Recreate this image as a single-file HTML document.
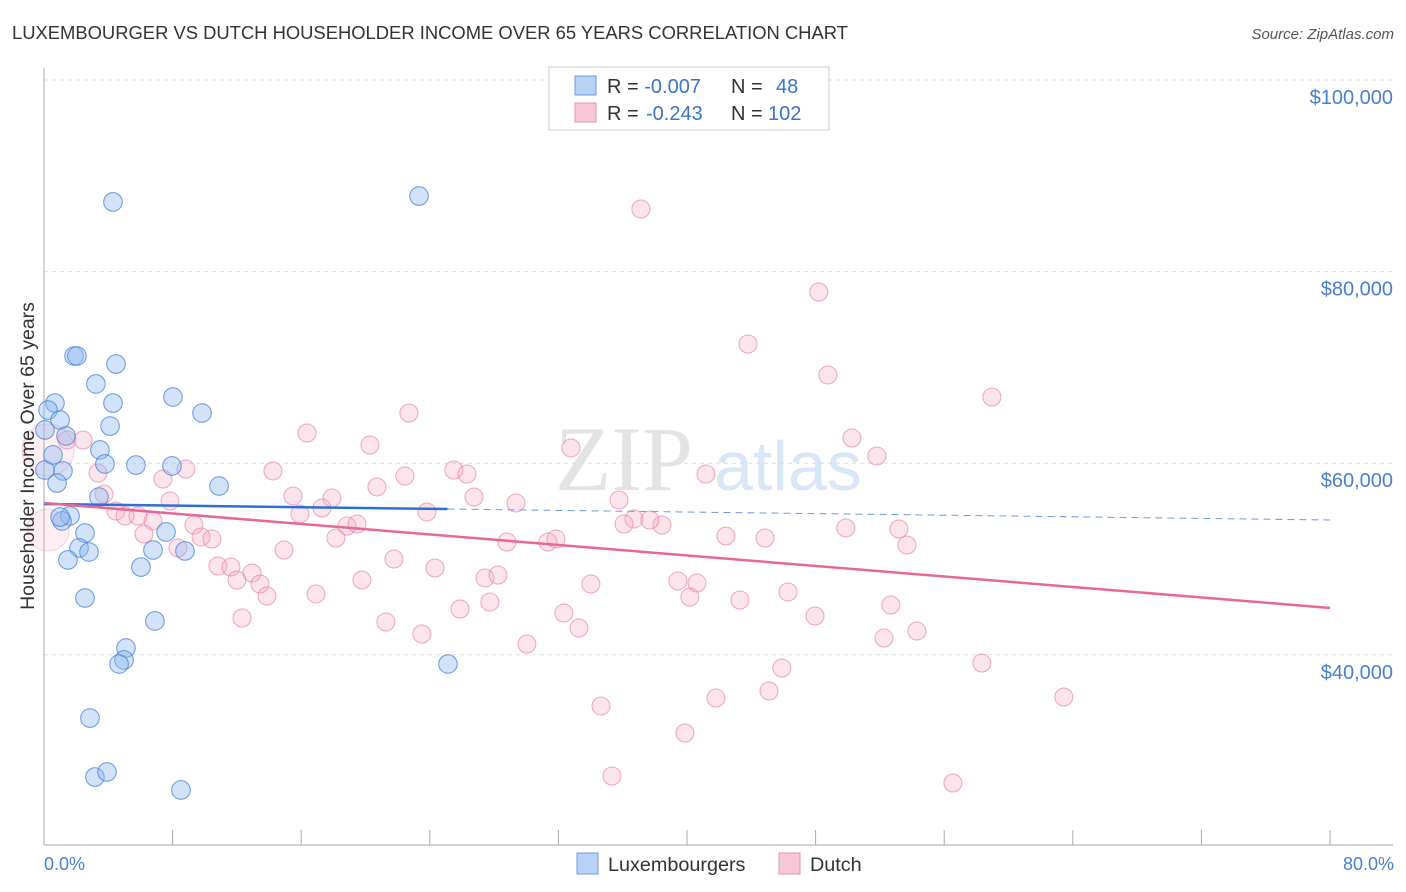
<!DOCTYPE html>
<html><head><meta charset="utf-8"><style>
body{margin:0;background:#fff;font-family:"Liberation Sans",sans-serif;}
</style></head><body>
<svg id="chart" width="1406" height="892" xmlns="http://www.w3.org/2000/svg" style="display:block">
<text x="12" y="39" font-size="18.4" fill="#333">LUXEMBOURGER VS DUTCH HOUSEHOLDER INCOME OVER 65 YEARS CORRELATION CHART</text>
<text x="1394" y="39" font-size="15" fill="#555" text-anchor="end" font-style="italic">Source: ZipAtlas.com</text>
<g id="grid"></g>
<text x="555" y="490" font-size="92" fill="#ddd" font-family="Liberation Serif, serif" opacity="0.8">ZIP</text>
<text x="714" y="490" font-size="70" fill="#cfe0f3" opacity="0.8">atlas</text>
<g id="axes"></g>
<g id="pink"></g>
<g id="blue"></g>
<g id="trends"></g>
<text transform="translate(34,456) rotate(-90)" font-size="19.5" fill="#333" text-anchor="middle">Householder Income Over 65 years</text>
<text x="44" y="870" font-size="18" fill="#4a7fd0">0.0%</text>
<text x="1394" y="870" font-size="18" fill="#4a7fd0" text-anchor="end">80.0%</text>
<g>
<rect x="549" y="67" width="280" height="63" fill="#fff" stroke="#ccc"/>
<rect x="575" y="76" width="21" height="19" fill="#b8d2f5" stroke="#6a9be0"/>
<rect x="575" y="103" width="21" height="19" fill="#f9c6d5" stroke="#ea93ae"/>
<text x="607" y="93" font-size="20" fill="#333">R = <tspan fill="#3b73c8">-0.007</tspan><tspan x="731">N = </tspan><tspan x="776" fill="#3b73c8">48</tspan></text>
<text x="607" y="120" font-size="20" fill="#333">R = <tspan fill="#3b73c8" x="646">-0.243</tspan><tspan x="731">N = </tspan><tspan x="768" fill="#3b73c8">102</tspan></text>
</g>
<g>
<rect x="577" y="853" width="21" height="21" fill="#b8d2f5" stroke="#6a9be0"/>
<text x="608" y="871" font-size="19.8" fill="#333">Luxembourgers</text>
<rect x="779" y="853" width="21" height="21" fill="#f9c6d5" stroke="#ea93ae"/>
<text x="810" y="871" font-size="19.8" fill="#333">Dutch</text>
</g>
</svg>
<script>
const blueX=[4.29,23.33,1.87,2.05,4.48,3.23,8.02,0.68,4.29,9.83,0.25,1.0,4.11,1.37,3.48,3.79,5.72,7.96,1.18,0.81,10.89,3.42,0.06,1.62,1.12,2.55,7.59,2.18,2.8,6.78,8.77,1.49,6.03,2.55,6.9,5.1,4.98,4.67,25.13,2.86,3.17,3.92,8.52,1.0,0.06,0.56];
const blueY=[87.27,87.89,71.19,71.19,70.35,68.27,66.91,66.28,66.28,65.24,65.55,64.51,63.88,62.84,61.38,59.92,59.81,59.71,59.19,57.93,57.62,56.47,59.29,54.49,53.97,52.71,52.82,51.15,50.73,50.94,50.84,49.9,49.16,45.93,43.53,40.71,39.46,39.04,39.04,33.4,27.24,27.77,25.89,54.38,63.47,60.86];
const pinkX=[37.13,48.2,43.79,48.76,58.97,22.7,16.36,20.28,50.26,51.81,32.78,1.43,2.43,3.36,8.83,14.24,22.45,25.5,26.31,41.18,20.71,7.4,3.73,15.49,26.75,29.36,35.77,17.91,7.84,17.29,23.82,15.92,36.7,4.48,5.04,5.85,6.78,9.33,18.85,19.47,36.08,38.44,49.88,53.18,6.22,9.77,10.45,18.16,28.8,31.35,31.85,42.42,44.85,53.68,8.33,14.93,21.77,10.82,11.63,12.94,24.32,12.0,13.44,19.78,27.43,28.24,34.02,39.43,40.62,16.92,13.87,40.18,43.29,46.28,27.74,25.88,52.68,32.34,12.32,21.27,47.96,33.28,23.51,54.3,52.25,30.04,45.9,58.34,45.1,41.8,63.44,34.65,39.87,35.33,56.54,37.69,0.25,0.25];
const pinkY=[86.53,77.87,72.44,69.21,66.91,65.24,63.15,61.9,62.63,60.75,61.59,62.42,62.42,58.98,59.39,59.19,58.66,59.29,58.87,58.87,57.52,58.35,56.78,56.58,56.47,55.85,56.16,56.37,56.05,55.32,54.91,54.7,54.18,55.01,54.49,54.49,53.97,53.55,53.44,53.65,53.65,53.55,53.24,53.13,52.61,52.3,52.09,52.19,51.77,51.77,52.09,52.4,52.19,51.46,51.15,50.94,50.0,49.27,49.16,48.54,49.06,47.81,47.39,47.81,48.02,48.33,47.39,47.7,47.49,46.35,46.14,46.03,45.72,46.56,45.51,44.78,45.2,44.36,43.84,43.42,44.05,42.8,42.17,42.48,41.75,41.13,38.62,39.14,36.22,35.49,35.59,34.66,31.84,27.35,26.62,54.07,61.38,53.03];
const pinkR=[];for(let i=0;i<pinkX.length;i++)pinkR.push(9);pinkR[pinkR.length-2]=26;pinkR[pinkR.length-1]=21;
const yTicks=[100,80,60,40];
const blueTrend=[55.74,54.07]; // at x=0 and x=80
const pinkTrend=[55.85,44.89];
const blueSolidEnd=25.1;
const NS="http://www.w3.org/2000/svg";
const sx=v=>44+v/80*1286;
const sy=v=>80+(100-v)*9.58;
function mk(tag,attrs,parent){const e=document.createElementNS(NS,tag);for(const k in attrs)e.setAttribute(k,attrs[k]);parent.appendChild(e);return e;}
const grid=document.getElementById('grid');
yTicks.forEach(t=>{
 const l=mk('line',{x1:44,x2:1393,y1:sy(t),y2:sy(t),stroke:'#ddd','stroke-dasharray':'4,4'},grid);
 
 
 const tx=mk('text',{x:1393,y:sy(t)+24,'font-size':20,fill:'#4a7fd0','text-anchor':'end'},grid);
 tx.textContent='$'+(t*1000).toLocaleString('en-US');
 
 
});
const axes=document.getElementById('axes');
mk('line',{x1:44,x2:44,y1:68,y2:845,stroke:'#aaa'},axes);
mk('line',{x1:44,x2:1393,y1:845,y2:845,stroke:'#aaa'},axes);
for(let i=0;i<=10;i++){const t=mk('line',{x1:sx(i*8),x2:sx(i*8),y1:830,y2:845,stroke:'#aaa'},axes);
 
 }
const pg=document.getElementById('pink');
pinkX.forEach((x,i)=>{const big=pinkR[i]>9;const c=mk('circle',{cx:sx(x),cy:sy(pinkY[i]),r:pinkR[i],fill:big?'rgba(245,165,192,0.18)':'rgba(245,165,192,0.3)',stroke:big?'rgba(232,130,165,0.35)':'rgba(232,130,165,0.7)','stroke-width':1},pg);
 
 });
const bg=document.getElementById('blue');
blueX.forEach((x,i)=>{const c=mk('circle',{cx:sx(x),cy:sy(blueY[i]),r:9.3,fill:'rgba(140,182,240,0.4)',stroke:'rgba(70,130,215,0.8)','stroke-width':1},bg);
 
 });
const tg=document.getElementById('trends');
const by=x=>blueTrend[0]+(blueTrend[1]-blueTrend[0])*x/80;
const l1=mk('line',{x1:sx(0),y1:sy(by(0)),x2:sx(blueSolidEnd),y2:sy(by(blueSolidEnd)),stroke:'#2f6fd1','stroke-width':2.5},tg);


const l2=mk('line',{x1:sx(blueSolidEnd),y1:sy(by(blueSolidEnd)),x2:sx(80),y2:sy(by(80)),stroke:'#6a9be0','stroke-width':1,'stroke-dasharray':'7,5'},tg);


const l3=mk('line',{x1:sx(0),y1:sy(pinkTrend[0]),x2:sx(80),y2:sy(pinkTrend[1]),stroke:'#e8679a','stroke-width':2.5},tg);


</script>
</body></html>
